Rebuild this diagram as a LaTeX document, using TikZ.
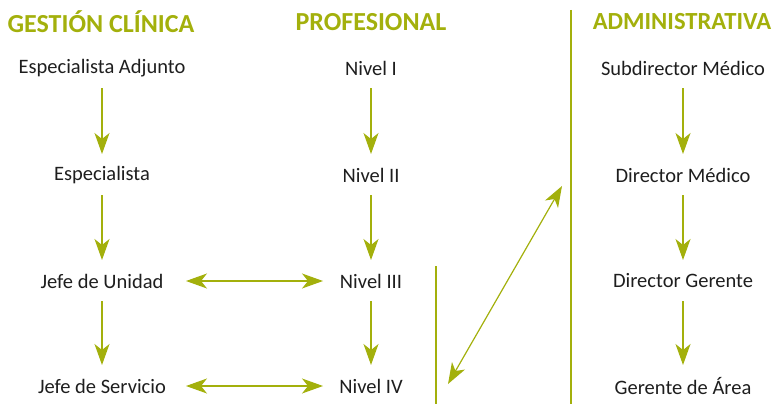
\documentclass[tikz,border=0pt]{standalone}
\usepackage{fontspec}
\setmainfont{Carlito}
\usetikzlibrary{arrows.meta,calc}
\definecolor{olive}{RGB}{163,176,12}
\definecolor{txt}{RGB}{30,30,30}
\tikzset{
  lbl/.style={inner sep=0pt, text=txt, font=\fontsize{20.5}{23}\selectfont},
  hdr/.style={inner sep=0pt, text=olive, font=\fontsize{26}{29}\selectfont\bfseries},
  arr/.style={draw=olive, line width=1.2pt, -{Stealth[length=21pt,width=15pt,inset=6pt]}},
  darr/.style={draw=olive, line width=1.2pt, {Stealth[length=21pt,width=15pt,inset=6pt]}-{Stealth[length=21pt,width=15pt,inset=6pt]}},
  sep/.style={draw=olive, line width=1.6pt}
}
\begin{document}
\begin{tikzpicture}[x=1pt,y=-1pt]
\useasboundingbox (0,0) rectangle (775,404);
% headers
\node[hdr] (h1) at (101,22) {GESTIÓN CLÍNICA};
\node[hdr] (h2) at (371,22) {PROFESIONAL};
\node[hdr, font=\fontsize{24.6}{28}\selectfont\bfseries] (h3) at (682,22) {ADMINISTRATIVA};
% column 1
\node[lbl] (a1) at (102,68) {Especialista Adjunto};
\node[lbl] (a2) at (102,175) {Especialista};
\node[lbl] (a3) at (102,281) {Jefe de Unidad};
\node[lbl] (a4) at (102,386) {Jefe de Servicio};
% column 2
\node[lbl] (b1) at (371,68) {Nivel I};
\node[lbl] (b2) at (371,175) {Nivel II};
\node[lbl] (b3) at (371,281) {Nivel III};
\node[lbl] (b4) at (371,386) {Nivel IV};
% column 3
\node[lbl] (c1) at (683,68) {Subdirector Médico};
\node[lbl] (c2) at (683,175) {Director Médico};
\node[lbl] (c3) at (683,281) {Director Gerente};
\node[lbl] (c4) at (683,386) {Gerente de Área};
% vertical arrows
\foreach \u/\v in {a1/a2,a2/a3,a3/a4,b1/b2,b2/b3,b3/b4,c1/c2,c2/c3,c3/c4}
  \draw[arr] ($(\u.center)+(0,20)$) -- ($(\v.center)+(0,-21)$);
% horizontal double arrows
\draw[darr] ($(a3.center)+(84,0)$) -- ($(b3.center)+(-48,0)$);
\draw[darr] ($(a4.center)+(84,0)$) -- ($(b4.center)+(-48,0)$);
% separators
\coordinate (s1t) at (436,266);
\coordinate (s1b) at (436,404);
\coordinate (s2t) at (571,10);
\coordinate (s2b) at (571,404);
\draw[sep] (s1t) -- (s1b);
\draw[sep] (s2t) -- (s2b);
% diagonal arrow
\coordinate (d1) at (448,384);
\coordinate (d2) at (562,186);
\draw[darr] (d1) -- (d2);
\end{tikzpicture}
\end{document}
